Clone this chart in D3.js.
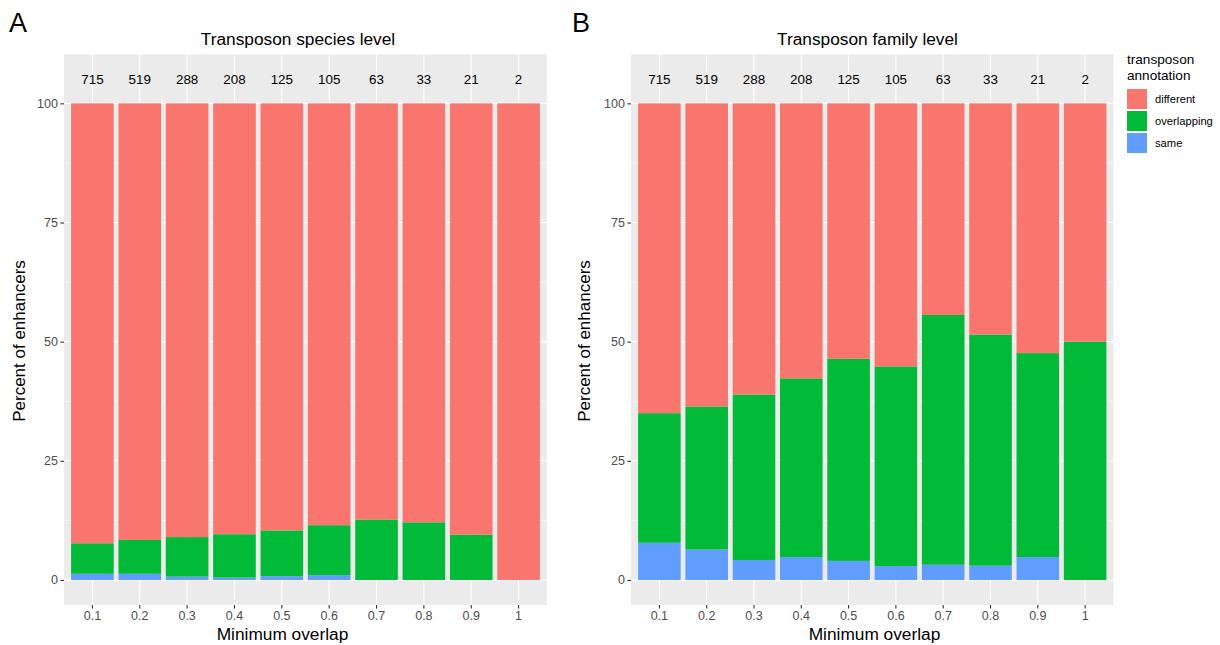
<!DOCTYPE html>
<html lang="en">
<head>
  <meta charset="UTF-8" />
  <title>Transposon annotation of enhancers</title>
  <style>
    body {
      margin: 0;
      background: #fff;
      font-family: "Liberation Sans", Arial, sans-serif;
    }
    svg text {
      font-family: "Liberation Sans", Arial, sans-serif;
    }
  </style>
</head>
<body>

  <div id="chart"></div>

  <script src="https://d3js.org/d3.v7.min.js"></script>

  <script>
    // Data (percent of enhancers per segment)
    const overlapLevels = ["0.1", "0.2", "0.3", "0.4", "0.5", "0.6", "0.7", "0.8", "0.9", "1"];
    const enhancerCounts = ["715", "519", "288", "208", "125", "105", "63", "33", "21", "2"];

    const speciesSame = [1.3, 1.3, 0.7, 0.5, 0.8, 1.0, 0, 0, 0, 0];
    const speciesOverlapping = [6.4, 7.1, 8.3, 9.1, 9.6, 10.5, 12.7, 12.1, 9.5, 0];
    const speciesDifferent = [92.3, 91.6, 91.0, 90.4, 89.6, 88.5, 87.3, 87.9, 90.5, 100];

    const familySame = [7.8, 6.4, 4.2, 4.8, 4.0, 2.9, 3.2, 3.0, 4.8, 0];
    const familyOverlapping = [27.2, 30.0, 34.7, 37.5, 42.4, 41.9, 52.4, 48.5, 42.8, 50];
    const familyDifferent = [65.0, 63.6, 61.1, 57.7, 53.6, 55.2, 44.4, 48.5, 52.4, 50];

    const yTicks = [0, 25, 50, 75, 100];
    const yMinorTicks = [12.5, 37.5, 62.5, 87.5];
    const annotationKeys = ["different", "overlapping", "same"];
    const annotationColors = ["#F8766D", "#00BA38", "#619CFF"];

    const W = 1220, H = 645;
    const svg = d3.select("#chart").append("svg")
      .attr("width", W)
      .attr("height", H);

    const color = d3.scaleOrdinal(annotationKeys, annotationColors);

    // panel geometry
    const plotTop = 54.5, plotBottom = 605;
    const panels = [
      { letter: "A", letterX: 9, title: "Transposon species level", titleX: 298, xTitleX: 282.5,
        left: 64, right: 547, yTitleX: 25,
        same: speciesSame, overlapping: speciesOverlapping, different: speciesDifferent },
      { letter: "B", letterX: 572, title: "Transposon family level", titleX: 867.5, xTitleX: 874.5,
        left: 631, right: 1113.5, yTitleX: 590,
        same: familySame, overlapping: familyOverlapping, different: familyDifferent }
    ];

    const y = d3.scaleLinear()
      .domain([-5.25, 110.25])
      .range([plotBottom, plotTop]);

    panels.forEach(p => {
      const g = svg.append("g");

      const x = d3.scaleBand()
        .domain(overlapLevels)
        .range([p.left, p.right])
        .paddingInner(0.1)
        .paddingOuter(0.15);

      // panel background
      g.append("rect")
        .attr("x", p.left)
        .attr("y", plotTop)
        .attr("width", p.right - p.left)
        .attr("height", plotBottom - plotTop)
        .attr("fill", "#EBEBEB");

      // minor grid
      g.selectAll(".minor")
        .data(yMinorTicks)
        .enter().append("line")
        .attr("x1", p.left).attr("x2", p.right)
        .attr("y1", d => y(d)).attr("y2", d => y(d))
        .attr("stroke", "#fff")
        .attr("stroke-width", 0.55);

      // major grid
      g.selectAll(".major")
        .data(yTicks)
        .enter().append("line")
        .attr("x1", p.left).attr("x2", p.right)
        .attr("y1", d => y(d)).attr("y2", d => y(d))
        .attr("stroke", "#fff")
        .attr("stroke-width", 1.1);

      g.selectAll(".vgrid")
        .data(overlapLevels)
        .enter().append("line")
        .attr("x1", d => x(d) + x.bandwidth() / 2)
        .attr("x2", d => x(d) + x.bandwidth() / 2)
        .attr("y1", plotTop).attr("y2", plotBottom)
        .attr("stroke", "#fff")
        .attr("stroke-width", 1.1);

      // stacked bars
      const rows = overlapLevels.map((lvl, i) => ({
        level: lvl,
        same: p.same[i],
        overlapping: p.overlapping[i],
        different: p.different[i]
      }));
      const stacked = d3.stack().keys(["same", "overlapping", "different"])(rows);

      g.selectAll(".layer")
        .data(stacked)
        .enter().append("g")
        .attr("fill", d => color(d.key))
        .selectAll("rect")
        .data(d => d)
        .enter().append("rect")
        .attr("x", d => x(d.data.level))
        .attr("y", d => y(d[1]))
        .attr("width", x.bandwidth())
        .attr("height", d => y(d[0]) - y(d[1]));

      // counts above bars
      g.selectAll(".count")
        .data(overlapLevels)
        .enter().append("text")
        .attr("x", d => x(d) + x.bandwidth() / 2)
        .attr("y", y(105))
        .attr("dy", "0.35em")
        .attr("text-anchor", "middle")
        .style("font-size", "13.4px")
        .attr("fill", "#000")
        .text((d, i) => enhancerCounts[i]);

      // x axis
      const xAxis = g.append("g")
        .attr("transform", `translate(0,${plotBottom})`)
        .call(d3.axisBottom(x).tickSize(3.6).tickPadding(2.5));
      xAxis.select(".domain").remove();
      xAxis.selectAll("line").attr("stroke", "#333").attr("stroke-width", 1.1);
      xAxis.selectAll("text")
        .attr("fill", "#4D4D4D")
        .style("font-size", "12.5px")
        .style("font-family", "Liberation Sans, Arial, sans-serif");

      // y axis
      const yAxis = g.append("g")
        .attr("transform", `translate(${p.left},0)`)
        .call(d3.axisLeft(y).tickValues(yTicks).tickSize(3.6).tickPadding(2.5));
      yAxis.select(".domain").remove();
      yAxis.selectAll("line").attr("stroke", "#333").attr("stroke-width", 1.1);
      yAxis.selectAll("text")
        .attr("fill", "#4D4D4D")
        .style("font-size", "12.5px")
        .style("font-family", "Liberation Sans, Arial, sans-serif");

      // titles
      g.append("text")
        .attr("x", p.titleX)
        .attr("y", 45)
        .attr("text-anchor", "middle")
        .style("font-size", "17.3px")
        .text(p.title);

      g.append("text")
        .attr("x", p.letterX)
        .attr("y", 32)
        .style("font-size", "27px")
        .text(p.letter);

      g.append("text")
        .attr("x", p.xTitleX)
        .attr("y", 640)
        .attr("text-anchor", "middle")
        .style("font-size", "17.3px")
        .text("Minimum overlap");

      g.append("text")
        .attr("transform", `translate(${p.yTitleX},341) rotate(-90)`)
        .attr("text-anchor", "middle")
        .style("font-size", "17px")
        .text("Percent of enhancers");
    });

    // legend
    const legend = svg.append("g").attr("transform", "translate(1127,0)");
    legend.append("text")
      .attr("x", 0).attr("y", 64)
      .style("font-size", "13.6px")
      .text("transposon");
    legend.append("text")
      .attr("x", 0).attr("y", 80)
      .style("font-size", "13.6px")
      .text("annotation");

    const items = legend.selectAll(".item")
      .data(annotationKeys)
      .enter().append("g")
      .attr("transform", (d, i) => `translate(0,${89 + i * 22})`);
    items.append("rect")
      .attr("width", 20)
      .attr("height", 20)
      .attr("fill", d => color(d));
    items.append("text")
      .attr("x", 28)
      .attr("y", 10)
      .attr("dy", "0.35em")
      .style("font-size", "11.2px")
      .text(d => d);
  </script>
</body>
</html>
